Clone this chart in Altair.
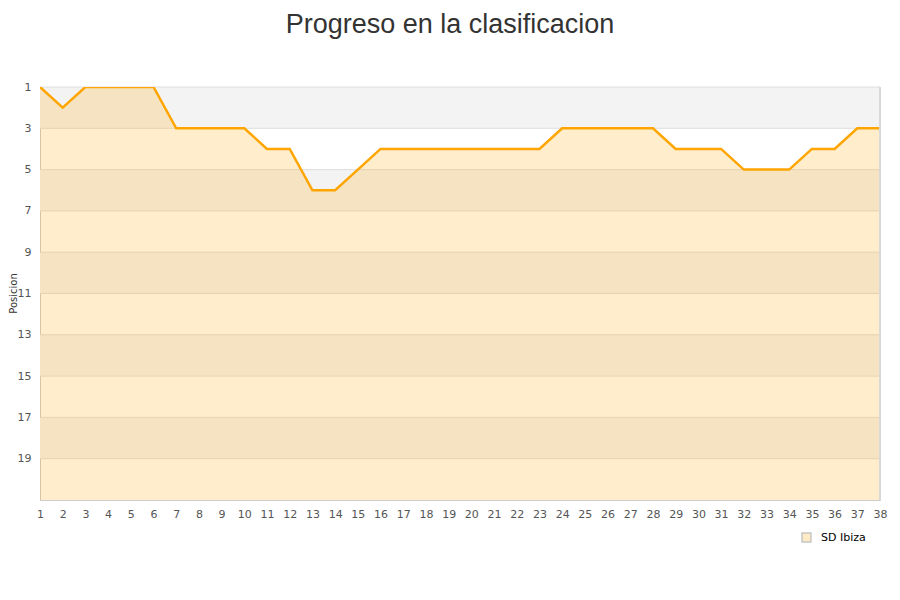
import altair as alt
import pandas as pd

jornadas = list(range(1, 39))
positions = [1, 2, 1, 1, 1, 1, 3, 3, 3, 3, 4, 4, 6, 6, 5, 4, 4, 4, 4, 4, 4, 4, 4,
             3, 3, 3, 3, 3, 4, 4, 4, 5, 5, 5, 4, 4, 3, 3]
team = "SD Ibiza"
y_ticks = [1, 3, 5, 7, 9, 11, 13, 15, 17, 19]
band_starts = [1, 5, 9, 13, 17]
band_ends = [3, 7, 11, 15, 19]
y_bottom = 21

df = pd.DataFrame({"jornada": jornadas, "pos": positions, "team": [team] * len(jornadas),
                   "base": [y_bottom] * len(jornadas)})
bands = pd.DataFrame({"y": band_starts, "y2": band_ends})
grid = pd.DataFrame({"y": y_ticks})

xs = alt.Scale(domain=[1, 38], nice=False, zero=False)
ys = alt.Scale(domain=[1, y_bottom], reverse=True, nice=False, zero=False)

xaxis = alt.Axis(values=jornadas, labelAngle=0, ticks=False, grid=False, title=None,
                 labelFont="DejaVu Sans", labelFontSize=11, labelColor="#555",
                 labelPadding=8, domainColor="#ccc", labelFlush=False, labelOverlap=False)
yaxis = alt.Axis(values=y_ticks, ticks=False, grid=False, title="Posicion",
                 labelFont="DejaVu Sans", labelFontSize=11, labelColor="#555",
                 labelPadding=9, domainColor="#ccc", titleFont="DejaVu Sans",
                 titleFontSize=10, titleFontWeight="normal", titleColor="#333",
                 titleX=-24, titleY=206, titleAngle=270, titleAlign="center",
                 titleBaseline="alphabetic")

band_layer = alt.Chart(bands).mark_rect(color="#f3f3f3").encode(
    x=alt.value(0), x2=alt.value(840),
    y=alt.Y("y:Q", scale=ys, axis=yaxis), y2="y2:Q")

grid_layer = alt.Chart(grid).mark_rule(color="#dedede", strokeWidth=1).encode(
    x=alt.value(0), x2=alt.value(840), y=alt.Y("y:Q", scale=ys, axis=yaxis))

area_layer = alt.Chart(df).mark_area(fillOpacity=0.2, interpolate="linear").encode(
    x=alt.X("jornada:Q", scale=xs, axis=xaxis),
    y=alt.Y("pos:Q", scale=ys, axis=yaxis), y2="base:Q",
    fill=alt.Fill("team:N", scale=alt.Scale(range=["#FFA500"]),
                  legend=alt.Legend(title=None, orient="none", legendX=761, legendY=445,
                                    symbolType="square", symbolSize=80, symbolOpacity=0.22,
                                    symbolStrokeColor="#000", symbolStrokeWidth=1.5,
                                    labelFont="DejaVu Sans", labelFontSize=11, labelColor="#000",
                                    labelOffset=9)))

line_layer = alt.Chart(df).mark_line(color="#FFA500", strokeWidth=2.5, clip=True).encode(
    x=alt.X("jornada:Q", scale=xs, axis=xaxis), y=alt.Y("pos:Q", scale=ys, axis=yaxis))

border = alt.Chart(grid).mark_rule(color="#d8d8d8").encode(
    x=alt.value(840), y=alt.value(0), y2=alt.value(413))

chart = alt.layer(band_layer, grid_layer, area_layer, line_layer, border).properties(
    width=840, height=413,
    title=alt.Title("Progreso en la clasificacion", font="Liberation Sans", fontSize=27,
                    fontWeight="normal", color="#333", anchor="middle", dx=-10, offset=42),
    autosize=alt.AutoSizeParams(type="none"),
    padding={"left": 32, "top": 79, "right": 12, "bottom": 92},
).configure_view(stroke=None).configure(background="white")

chart.save("out.html", embed_options={"renderer": "svg", "actions": False})
